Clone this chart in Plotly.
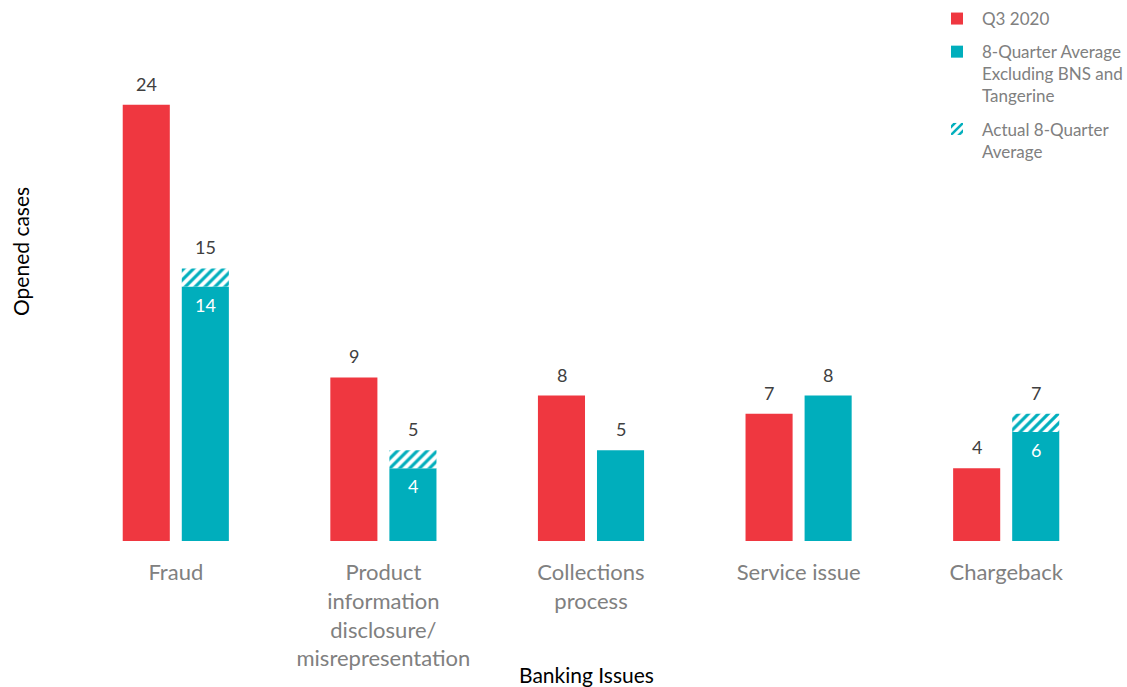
import plotly.graph_objects as go

# Banking issue categories and opened-case counts
categories = ["Fraud", "Product<br>information<br>disclosure/<br>misrepresentation",
              "Collections<br>process", "Service issue", "Chargeback"]
q3_2020 = [24, 9, 8, 7, 4]
avg_excl_bns = [14, 4, 5, 8, 6]        # 8-quarter average excluding BNS and Tangerine
avg_actual = [15, 5, 5, 8, 7]          # actual 8-quarter average

RED = "#EF3740"
TEAL = "#00AEBC"
DARK = "#404040"
GREY = "#808080"
FONT = "Lato, 'Open Sans', sans-serif"

# portion of the actual average above the excluding-BNS average
extra = [a - e for a, e in zip(avg_actual, avg_excl_bns)]
has_extra = [d > 0 for d in extra]

fig = go.Figure()

fig.add_trace(go.Bar(
    name="Q3 2020", x=categories, y=q3_2020, offsetgroup="q3", legendgroup="a",
    marker=dict(color=RED, line=dict(width=0)),
))

fig.add_trace(go.Bar(
    name="8-Quarter Average<br>Excluding BNS and<br>Tangerine", legendgroup="b",
    x=categories, y=avg_excl_bns, offsetgroup="avg",
    marker=dict(color=TEAL, line=dict(width=0)),
))

fig.add_trace(go.Bar(
    name="Actual 8-Quarter<br>Average", legendgroup="c",
    x=[c for c, h in zip(categories, has_extra) if h],
    y=[d for d, h in zip(extra, has_extra) if h],
    base=[e for e, h in zip(avg_excl_bns, has_extra) if h],
    offsetgroup="avg",
    marker=dict(color="white", line=dict(width=0),
                pattern=dict(shape="/", fgcolor=TEAL, bgcolor="white",
                             size=7, solidity=0.45, fillmode="replace")),
))

# value labels
LBL = dict(size=18, color=DARK, family=FONT)
SHIFT = 29.5
for c, v in zip(categories, q3_2020):
    fig.add_annotation(x=c, y=v, text=str(v), showarrow=False, xshift=-SHIFT,
                       yanchor="bottom", yshift=8, font=LBL)
for c, e, a, h in zip(categories, avg_excl_bns, avg_actual, has_extra):
    fig.add_annotation(x=c, y=a, text=str(a), showarrow=False, xshift=SHIFT,
                       yanchor="bottom", yshift=8, font=LBL)
    if h:
        fig.add_annotation(x=c, y=e, text=str(e), showarrow=False, xshift=SHIFT,
                           yanchor="middle", yshift=-18,
                           font=dict(size=18, color="white", family=FONT))

fig.update_layout(
    width=1127, height=687,
    margin=dict(l=72, r=17, t=14, b=146, autoexpand=False),
    paper_bgcolor="white", plot_bgcolor="white",
    barmode="group", bargap=0.431, bargroupgap=0.203,
    font=dict(family=FONT, color=GREY),
    showlegend=True,
    legend=dict(x=0.8285, xanchor="left", y=1 - 1 / 687, yref="container",
                yanchor="top", valign="top", traceorder="grouped",
                font=dict(size=17, color=GREY, family=FONT),
                bgcolor="rgba(0,0,0,0)", tracegroupgap=8, itemwidth=40),
)

fig.update_xaxes(
    showline=False, showgrid=False, zeroline=False, automargin=False,
    ticks="outside", ticklen=12, tickcolor="rgba(0,0,0,0)",
    tickfont=dict(size=22, color=GREY, family=FONT),
    range=[-0.5, 4.5],
)
fig.update_yaxes(
    range=[0, 29], showgrid=False, showline=False, zeroline=False,
    showticklabels=False, ticks="", automargin=False,
)

# axis titles
fig.add_annotation(text="Banking Issues", xref="paper", yref="paper",
                   x=(586 - 72) / 1038, y=-(674 - 541) / 527, showarrow=False,
                   xanchor="center", yanchor="middle",
                   font=dict(size=21, color="black", family=FONT))
fig.add_annotation(text="Opened cases", xref="paper", yref="paper",
                   x=-(72 - 20) / 1038, y=(541 - 252) / 527, showarrow=False,
                   xanchor="center", yanchor="middle",
                   textangle=-90, font=dict(size=21, color="black", family=FONT))

fig.write_html("out.html")
